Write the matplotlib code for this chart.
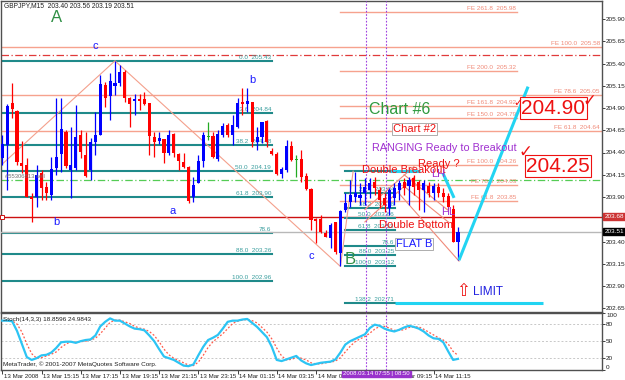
import matplotlib
matplotlib.use('Agg')
import matplotlib.pyplot as plt
import matplotlib.transforms as mtrans
from matplotlib.patches import Rectangle

W, H = 625, 380
NARROW = ['Liberation Sans Narrow', 'Liberation Sans', 'DejaVu Sans']
ARIAL = ['Liberation Sans', 'DejaVu Sans']
plt.rcParams['font.family'] = NARROW

# ---------------- data ----------------
opens = [204.34, 204.48, 204.96, 204.87, 204.28, 204.26, 203.90, 203.90, 204.17, 204.01,
         203.92, 204.23, 204.38, 204.63, 204.20, 204.23, 204.60, 204.37, 204.20, 204.52,
         204.60, 205.16, 205.03, 205.15, 205.18, 205.31, 205.01, 204.98, 205.00, 205.00,
         204.96, 204.57, 204.53, 204.55, 204.39, 204.61, 204.38, 204.29, 204.24, 203.90,
         204.06, 204.30, 204.57, 204.59, 204.33, 204.60, 204.71, 204.60, 204.69, 204.97,
         204.94, 204.97, 204.52, 204.57, 204.75, 204.42, 204.38, 204.16, 204.20, 204.47,
         204.32, 204.33, 204.14, 203.99, 203.65, 203.65, 203.50, 203.44, 203.62, 203.27,
         203.75, 203.84, 203.90, 203.89, 203.94, 203.98, 204.07, 203.98, 203.89, 203.78,
         203.89, 203.98, 204.07, 204.02, 204.11, 204.07, 203.98, 204.02, 203.95, 204.01,
         203.95, 203.91, 203.77, 203.40]
highs = [204.60, 204.94, 205.18, 204.88, 204.53, 204.34, 203.94, 204.26, 204.20, 204.07,
         204.35, 205.01, 205.01, 204.65, 204.69, 204.93, 204.65, 204.63, 204.56, 204.85,
         205.27, 205.19, 205.29, 205.43, 205.38, 205.33, 205.02, 205.06, 205.06, 205.08,
         204.96, 204.63, 204.63, 204.55, 204.65, 204.62, 204.40, 204.40, 204.25, 204.12,
         204.37, 204.63, 204.74, 204.63, 204.65, 204.73, 204.73, 204.82, 205.01, 205.12,
         205.12, 204.97, 204.69, 204.74, 204.77, 204.45, 204.41, 204.24, 204.54, 204.53,
         204.37, 204.43, 204.17, 204.00, 203.66, 203.70, 203.53, 203.61, 203.62, 203.75,
         203.94, 204.09, 204.18, 204.06, 204.11, 204.11, 204.12, 204.01, 203.94, 204.00,
         204.06, 204.09, 204.11, 204.12, 204.15, 204.09, 204.09, 204.07, 204.06, 204.06,
         204.00, 203.94, 203.81, 203.56]
lows = [204.26, 203.98, 204.79, 204.26, 204.17, 203.90, 203.62, 203.79, 203.87, 203.87,
        203.87, 204.15, 204.18, 204.23, 203.89, 204.20, 204.34, 204.12, 204.09, 204.37,
        204.60, 204.91, 204.77, 205.05, 205.15, 204.97, 204.69, 204.82, 204.88, 204.93,
        204.37, 204.35, 204.50, 204.28, 204.37, 204.35, 204.20, 204.23, 203.83, 203.84,
        204.06, 204.24, 204.54, 204.34, 204.30, 204.57, 204.57, 204.48, 204.68, 204.82,
        204.85, 204.46, 204.43, 204.51, 204.46, 204.37, 204.15, 204.11, 204.18, 204.30,
        204.12, 204.07, 203.98, 203.53, 203.38, 203.50, 203.45, 203.33, 203.26, 203.12,
        203.73, 203.79, 203.84, 203.81, 203.81, 203.89, 203.92, 203.78, 203.73, 203.70,
        203.81, 203.87, 203.92, 203.81, 203.92, 203.75, 203.73, 203.90, 203.87, 203.90,
        203.84, 203.77, 203.39, 203.19]
closes = [204.50, 204.92, 204.89, 204.29, 204.25, 203.90, 203.88, 204.15, 204.00, 203.94,
          204.21, 204.35, 204.66, 204.25, 204.26, 204.57, 204.41, 204.14, 204.52, 204.60,
          205.17, 205.01, 205.20, 205.18, 205.30, 205.01, 204.94, 205.00, 204.98, 204.94,
          204.59, 204.52, 204.56, 204.39, 204.60, 204.39, 204.30, 204.24, 203.86, 204.03,
          204.30, 204.60, 204.57, 204.35, 204.61, 204.70, 204.60, 204.71, 204.96, 204.94,
          204.98, 204.52, 204.57, 204.74, 204.52, 204.38, 204.16, 204.21, 204.47, 204.32,
          204.32, 204.12, 203.99, 203.64, 203.63, 203.51, 203.45, 203.59, 203.28, 203.74,
          203.83, 203.92, 203.94, 203.92, 204.01, 204.06, 204.00, 203.87, 203.81, 203.98,
          204.00, 204.06, 204.00, 204.09, 204.01, 203.98, 204.06, 203.94, 204.02, 203.95,
          203.90, 203.79, 203.39, 203.51]
stoch_k = [86, 86, 85, 68, 45, 22, 17, 20, 25, 26,
           30, 38, 48, 49, 49, 47, 50, 52, 53, 60,
           76, 84, 90, 86, 86, 81, 76, 72, 71, 69,
           60, 50, 36, 23, 20, 17, 12, 7, 6, 9,
           25, 40, 52, 56, 61, 72, 84, 86, 86, 88,
           89, 82, 75, 66, 57, 40, 17, 15, 18, 21,
           24, 16, 11, 8, 10, 12, 13, 14, 18, 30,
           44, 50, 54, 58, 62, 73, 79, 77, 72, 69,
           67, 70, 74, 77, 75, 72, 67, 60, 55, 54,
           48, 32, 17, 18.86]
stoch_d = [86, 86, 86, 80, 66, 45, 28, 20, 21, 24,
           27, 31, 39, 45, 49, 48, 49, 50, 52, 55,
           63, 73, 83, 87, 87, 84, 81, 76, 73, 71,
           67, 60, 49, 36, 26, 20, 16, 12, 8, 7,
           13, 25, 39, 49, 56, 63, 72, 81, 85, 87,
           88, 86, 82, 74, 66, 54, 38, 24, 17, 18,
           21, 20, 17, 12, 10, 10, 12, 13, 15, 21,
           31, 41, 49, 54, 58, 64, 71, 76, 76, 73,
           69, 69, 70, 74, 75, 75, 71, 66, 61, 56,
           52, 45, 32, 24.98]
time_tick_bars = [0, 8, 16, 24, 32, 40, 48, 56, 64, 72, 80, 88]
time_tick_labels = ['13 Mar 2008', '13 Mar 15:15', '13 Mar 17:15', '13 Mar 19:15',
                    '13 Mar 21:15', '13 Mar 23:15', '14 Mar 01:15', '14 Mar 03:15',
                    '14 Mar 05:15', '14 Mar 07:15', '14 Mar 09:15', '14 Mar 11:15']
price_ticks = [205.90, 205.65, 205.40, 205.15, 204.90, 204.65, 204.40,
               204.15, 203.90, 203.65, 203.40, 203.15, 202.90, 202.65]
stoch_ticks = [100, 80, 50, 20, 0]

fib1_levels = ['0.0', '23.6', '38.2', '50.0', '61.8', '78.6', '88.0', '100.0']
fib1_prices = [205.43, 204.84, 204.48, 204.19, 203.90, 203.49, 203.26, 202.96]
fib2_levels = ['0.0', '23.6', '38.2', '50.0', '61.8', '78.6', '88.0', '100.0', '138.2']
fib2_prices = [204.19, 203.94, 203.78, 203.66, 203.53, 203.35, 203.25, 203.12, 202.71]
fe_short_levels = ['261.8', '200.0', '161.8', '150.0', '100.0', '78.6', '61.8']
fe_short_prices = [205.98, 205.32, 204.92, 204.79, 204.26, 204.03, 203.85]
fe_long_levels = ['100.0', '78.6', '61.8']
fe_long_prices = [205.58, 205.05, 204.64]

zigzag_bars = [-1, 23, 69, 71.6]
zigzag_prices = [204.22, 205.43, 203.12, 204.19]
channel_segments = [((74, 203.62), (84, 204.12)), ((74, 203.76), (84, 204.24)),
                    ((82, 204.15), (91, 203.75)), ((82, 204.02), (91, 203.62)),
                    ((80.8, 203.95), (93.2, 203.18))]
cyan_segments = [((93.2, 203.19), (107.3, 205.14)), ((89.9, 204.17), (92.2, 203.89)),
                 ((79.1, 204.19), (85.2, 204.19)), ((80.2, 202.71), (110.3, 202.71))]
red_dashdot_price = 205.50
green_dashdot_price = 204.09
order_price = 203.68
bid_price = 203.51
vline_bars = [74.2, 78.3]

# ---------------- layout ----------------
fig = plt.figure(figsize=(W / 100, H / 100), dpi=100)
fig.patch.set_facecolor('white')


def px_i(x):
    return (x - 2.3) / 4.9


ax = fig.add_axes([1 / W, 1 - 312 / H, 601 / W, 311 / H])
ax2 = fig.add_axes([1 / W, 1 - 369.6 / H, 601 / W, 56.9 / H])
XMIN, XMAX = px_i(1), px_i(602)
YTOP = 204.90 + 107 / 89
YBOT = 204.90 - 204 / 89
for a in (ax, ax2):
    a.set_xlim(XMIN, XMAX)
    a.set_facecolor('white')
    for s in a.spines.values():
        s.set_color('#505050')
        s.set_linewidth(1.0)
ax.set_ylim(YBOT, YTOP)
ax2.set_ylim(0, 100)

# right price axis
ax.yaxis.tick_right()
ax.set_yticks(price_ticks)
ax.set_yticklabels([f'{p:.2f}' for p in price_ticks])
ax.tick_params(axis='y', length=2, width=0.6, pad=1, labelsize=4.6, colors='#202020')
ax.set_xticks([])

ax2.yaxis.tick_right()
ax2.set_yticks(stoch_ticks)
ax2.set_yticklabels([str(v) for v in stoch_ticks])
ax2.tick_params(axis='y', length=2, width=0.6, pad=1, labelsize=4.6, colors='#202020')
for lbl, v in zip(ax2.get_yticklabels(), stoch_ticks):
    if v == 100:
        lbl.set_va('top')
    elif v == 0:
        lbl.set_va('bottom')
ax2.set_xticks(time_tick_bars)
ax2.set_xticklabels([''] * len(time_tick_bars))
ax2.tick_params(axis='x', length=3, width=0.6, colors='#202020')
for b, lab in zip(time_tick_bars, time_tick_labels):
    if lab == '14 Mar 07:15':
        continue  # hidden under the crosshair time box in the reference
    ax2.annotate(lab, xy=(b, 0), xycoords=('data', 'axes fraction'), xytext=(1.2, -3.2),
                 textcoords='offset points', ha='left', va='top', fontsize=4.4, color='#202020')

# ---------------- main panel lines ----------------
fib_col = '#1f8a8a'
fe_col = '#f6a28e'
fe_txt = '#f08a78'
ax.axhline(red_dashdot_price, color='#e03a3a', lw=0.9, ls=(0, (6, 2, 1, 2)), zorder=2)
ax.axhline(green_dashdot_price, color='#55cc55', lw=0.9, ls=(0, (6, 2, 1, 2)), zorder=2)
ax.axhline(order_price, color='#cc1111', lw=1.0, zorder=2)
ax.axhline(bid_price, color='#b8b8b8', lw=1.0, zorder=3)

for lvl, p in zip(fe_long_levels, fe_long_prices):
    ax.plot([XMIN, XMAX], [p, p], color=fe_col, lw=1.0, zorder=1)
    ax.text(px_i(600), p + 0.012, f'FE {lvl}  {p:.2f}', ha='right', va='bottom',
            fontsize=4.6, color=fe_txt)
for lvl, p in zip(fe_short_levels, fe_short_prices):
    ax.plot([px_i(340), px_i(517)], [p, p], color=fe_col, lw=1.0, zorder=1)
    ax.text(px_i(516), p + 0.012, f'FE {lvl}  {p:.2f}', ha='right', va='bottom',
            fontsize=4.6, color=fe_txt)

for lvl, p in zip(fib1_levels, fib1_prices):
    ax.plot([XMIN, px_i(272)], [p, p], color=fib_col, lw=1.5, zorder=2)
    s = lvl if lvl == '78.6' else f'{lvl}  {p:.2f}'
    ax.text(px_i(271), p + 0.012, s, ha='right', va='bottom', fontsize=4.6, color='#3a9e9e')
for lvl, p in zip(fib2_levels, fib2_prices):
    ax.plot([px_i(345), px_i(395)], [p, p], color=fib_col, lw=1.5, zorder=2)
    if lvl == '0.0':
        continue
    s = lvl if lvl == '78.6' else f'{lvl}  {p:.2f}'
    ax.text(px_i(394), p + 0.012, s, ha='right', va='bottom', fontsize=4.6, color='#3a9e9e')

ax.plot(zigzag_bars, zigzag_prices, color='#f4a08c', lw=0.8, zorder=2)
for (x0, y0), (x1, y1) in channel_segments:
    ax.plot([x0, x1], [y0, y1], color='#f08a7a', lw=0.8, zorder=4)

for b in vline_bars:
    for a in (ax, ax2):
        a.axvline(b, color='#a040e0', lw=0.8, ls=(0, (1.5, 1.5)), zorder=3)

# ---------------- candles ----------------
for i, (o, h, l, c) in enumerate(zip(opens, highs, lows, closes)):
    if c > o:
        col = '#0000ff'
    elif c < o:
        col = '#ff0000'
    else:
        col = '#22aa22'
    ax.plot([i, i], [l, h], color=col, lw=0.9, zorder=5, solid_capstyle='butt')
    lo = min(o, c)
    ht = max(abs(c - o), 0.012)
    ax.add_patch(Rectangle((i - 0.32, lo), 0.64, ht, facecolor=col, edgecolor='none', zorder=6))

for (x0, y0), (x1, y1) in cyan_segments:
    ax.plot([x0, x1], [y0, y1], color='#22d4f2', lw=2.2, zorder=7, solid_capstyle='butt')

# price boxes on axis
bt = mtrans.blended_transform_factory(ax.transAxes, ax.transData)
ax.text(1.004, order_price, '203.68', transform=bt, ha='left', va='center', fontsize=4.6,
        color='white', bbox=dict(boxstyle='square,pad=0.15', fc='#cc3333', ec='#cc3333'), zorder=10)
ax.text(1.004, bid_price, '203.51', transform=bt, ha='left', va='center', fontsize=4.6,
        color='white', bbox=dict(boxstyle='square,pad=0.15', fc='black', ec='black'), zorder=10)
ax.plot([0.002], [order_price], transform=bt, marker='s', ms=2.5, mfc='white', mec='#cc1111',
        mew=0.7, zorder=10, clip_on=False)

# ---------------- stochastic ----------------
for lv in (80, 50, 20):
    ax2.axhline(lv, color='#c8c8c8', lw=0.7, ls=(0, (2, 2)))
bars = list(range(len(stoch_k)))
ax2.plot(bars, stoch_d, color='#ff5a4a', lw=0.9, ls=(0, (1.5, 1.5)), zorder=3)
ax2.plot(bars, stoch_k, color='#2cc4f4', lw=1.6, zorder=4)


# ---------------- text annotations (pixel positions) ----------------
def ftext(x, y, s, **kw):
    kw.setdefault('va', 'center')
    kw.setdefault('ha', 'left')
    return fig.text(x / W, 1 - y / H, s, **kw)


ftext(4, 6, 'GBPJPY,M15  203.40 203.56 203.19 203.51', fontsize=4.8, color='#202020')
ftext(5, 177, '#55306813 sell', fontsize=4.2, color='#707070')
ftext(3, 320, 'Stoch(14,3,3) 18.8596 24.9843', fontsize=4.6, color='#202020')
ftext(3, 364, 'MetaTrader, \u00a9 2001-2007 MetaQuotes Software Corp.', fontsize=4.6, color='#202020')
ftext(343, 374, '2008.03.14 07:55 | 08:50', fontsize=4.3, color='white',
      bbox=dict(boxstyle='square,pad=0.15', fc='#9933cc', ec='#9933cc'))

green = '#2f8f45'
blue = '#1a1aff'
ftext(57, 18, 'A', fontsize=12, color=green, ha='center', family=ARIAL)
ftext(350, 260, 'B', fontsize=12, color=green, ha='center', family=ARIAL)
for (x, y, s) in [(95, 46, 'c'), (252, 80, 'b'), (56, 222, 'b'), (173, 211, 'a'), (311, 256, 'c')]:
    ftext(x, y, s, fontsize=8, color=blue, ha='center', family=ARIAL)

ftext(369, 109, 'Chart #6', fontsize=11.5, color='#2e9a3e', family=ARIAL)
ftext(393, 129, 'Chart #2', fontsize=8, color='#ee1111', family=ARIAL,
      bbox=dict(boxstyle='square,pad=0.1', fc='white', ec='#a0a0a0', lw=0.6))
ftext(372, 148, 'RANGING Ready to Breakout', fontsize=7.8, color='#a030d0', family=ARIAL)
ftext(362, 170, 'Double Breakout', fontsize=8, color='#ee1111', family=ARIAL)
ftext(418, 164, 'Ready ?', fontsize=8, color='#ee1111', family=ARIAL)
ftext(431, 174, 'LH', fontsize=8, color='#a030d0', family=ARIAL)
ftext(441, 212, 'HL', fontsize=8, color='#a030d0', family=ARIAL)
ftext(379, 225, 'Double Bottom', fontsize=8, color='#ee1111', family=ARIAL)
ftext(396, 244, 'FLAT B', fontsize=8, color='#1a1aff', family=ARIAL,
      bbox=dict(boxstyle='square,pad=0.1', fc='white', ec='#a0a0a0', lw=0.6))
ftext(473, 292, 'LIMIT', fontsize=8.5, color='#2020e0', family=ARIAL)
ftext(463, 291, '\u21e7', fontsize=12, color='#ee1111', ha='center', family=['DejaVu Sans'])

ftext(553.5, 108, '204.90', fontsize=15, color='#ee1111', ha='center', family=NARROW,
      bbox=dict(boxstyle='square,pad=0.05', fc='white', ec='#ee1111', lw=0.8))
ftext(558, 166, '204.25', fontsize=15, color='#ee1111', ha='center', family=NARROW,
      bbox=dict(boxstyle='square,pad=0.05', fc='white', ec='#ee1111', lw=0.8))
ftext(518, 103, '\u2713', fontsize=8, color='#ee1111', ha='center', family=['DejaVu Sans'])
ftext(589, 101, '\u2713', fontsize=12, color='#ee1111', ha='center', family=['DejaVu Sans'])
ftext(525, 152, '\u2713', fontsize=12, color='#ee1111', ha='center', family=['DejaVu Sans'])

fig.savefig('out.png', dpi=100, facecolor='white')
